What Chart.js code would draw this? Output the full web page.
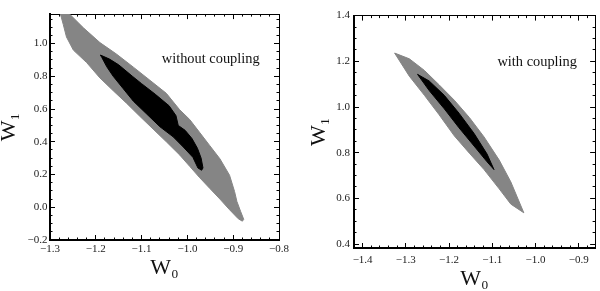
<!DOCTYPE html>
<html>
<head>
<meta charset="utf-8">
<script src="https://cdn.jsdelivr.net/npm/chart.js@4"></script>
<style>
html,body{margin:0;padding:0;background:#fff;}
#wrap{position:relative;width:600px;height:291px;overflow:hidden;background:#fff;}
canvas{position:absolute;top:0;}
#c1{left:0;}
#c2{left:300px;}
</style>
</head>
<body>
<div id="wrap">
<canvas id="c1" width="300" height="291"></canvas>
<canvas id="c2" width="300" height="291"></canvas>
</div>
<script>
// ---------- data ----------
// Left panel: without coupling
const leftOuterX = [-1.282, -1.262, -1.260, -1.227, -1.191, -1.155, -1.118, -1.082, -1.046, -1.017, -0.995, -0.973, -0.951, -0.929, -0.908, -0.897, -0.892, -0.884, -0.877, -0.880, -0.889, -0.908, -0.929, -0.951, -0.973, -0.995, -1.017, -1.046, -1.075, -1.104, -1.133, -1.162, -1.191, -1.220, -1.249, -1.264, -1.271, -1.278, -1.282];
const leftOuterY = [1.200, 1.200, 1.188, 1.096, 1.006, 0.936, 0.856, 0.776, 0.696, 0.596, 0.536, 0.456, 0.376, 0.296, 0.196, 0.096, 0.036, -0.024, -0.074, -0.085, -0.070, -0.015, 0.050, 0.115, 0.180, 0.250, 0.320, 0.400, 0.478, 0.556, 0.636, 0.712, 0.790, 0.884, 0.960, 1.040, 1.116, 1.188, 1.200];
const leftInnerX = [-1.190, -1.170, -1.150, -1.120, -1.100, -1.070, -1.040, -1.025, -1.020, -1.005, -0.990, -0.978, -0.970, -0.966, -0.969, -0.977, -0.988, -1.009, -1.031, -1.060, -1.089, -1.118, -1.140, -1.162, -1.176, -1.187, -1.190];
const leftInnerY = [0.930, 0.905, 0.870, 0.800, 0.755, 0.690, 0.620, 0.560, 0.500, 0.470, 0.420, 0.360, 0.300, 0.240, 0.226, 0.240, 0.305, 0.368, 0.430, 0.492, 0.570, 0.648, 0.724, 0.800, 0.858, 0.916, 0.930];

// Right panel: with coupling
const rightOuterX = [-1.326, -1.292, -1.257, -1.223, -1.188, -1.153, -1.119, -1.084, -1.057, -1.027, -1.057, -1.084, -1.119, -1.153, -1.188, -1.223, -1.257, -1.292, -1.326];
const rightOuterY = [1.236, 1.211, 1.160, 1.097, 1.030, 0.954, 0.869, 0.768, 0.672, 0.537, 0.575, 0.642, 0.726, 0.798, 0.874, 0.966, 1.051, 1.135, 1.236];
const rightInnerX = [-1.273, -1.246, -1.211, -1.177, -1.142, -1.112, -1.096, -1.112, -1.142, -1.177, -1.211, -1.246, -1.273];
const rightInnerY = [1.143, 1.114, 1.051, 0.973, 0.884, 0.794, 0.726, 0.760, 0.829, 0.909, 0.992, 1.072, 1.143];

// axis ranges and tick steps
const leftXRange = [-1.3, -0.8];
const leftYRange = [-0.2, 1.18];
const rightXRange = [-1.42, -0.862];
const rightYRange = [0.383, 1.4];
const xMajorStep = 0.1, xMinorStep = 0.02;
const yMajorStep = 0.2, yMinorStep = 0.05;

// texts
const xTitle = 'W\u2080';
const yTitle = 'W\u2081';
const leftNote = 'without coupling';
const rightNote = 'with coupling';
const leftNotePos = [-1.056, 0.905];
const rightNotePos = [-1.088, 1.196];

// ---------- rendering ----------
const SERIF = '"Liberation Serif", "DejaVu Serif", serif';
const GRAY = '#858585';
const BLACK = '#000000';

function pts(xs, ys) { return xs.map((x, i) => ({x: x, y: ys[i]})); }
function region(xs, ys, color, order) {
  return {
    data: pts(xs, ys), showLine: true, fill: 'shape',
    backgroundColor: color, borderColor: color, borderWidth: 1,
    pointRadius: 0, pointHoverRadius: 0, tension: 0, order: order
  };
}
function fmt(v) {
  if (Math.abs(v) < 1e-9) return '0.0';
  const s = Math.abs(v).toFixed(1);
  return v < 0 ? '\u2212' + s : s;
}

const notePlugin = {
  id: 'note',
  afterDatasetsDraw(chart, args, opts) {
    const ctx = chart.ctx;
    ctx.save();
    ctx.font = '14.4px ' + SERIF;
    ctx.fillStyle = '#111';
    ctx.textAlign = 'left';
    ctx.textBaseline = 'middle';
    ctx.fillText(opts.text, chart.scales.x.getPixelForValue(opts.x), chart.scales.y.getPixelForValue(opts.y));
    ctx.restore();
  }
};

function frameScales(p) {
  const minorAxis = (axis, pos, min, max, step, len, weight, zero) => ({
    type: 'linear', axis: axis, position: pos, min: min, max: max, weight: weight,
    ticks: {display: false, stepSize: step, includeBounds: false, autoSkip: false},
    grid: {drawOnChartArea: false, drawTicks: true, tickLength: len, tickColor: '#000', tickWidth: 1},
    border: {display: false},
    afterFit: zero
  });
  const zeroH = s => { s.height = 0; };
  const zeroW = s => { s.width = 0; };
  const titleFont = {family: SERIF, size: 22, lineHeight: 0.8};
  return {
    x: {
      type: 'linear', position: 'bottom', min: p.x[0], max: p.x[1], weight: 1,
      ticks: {stepSize: xMajorStep, includeBounds: false, autoSkip: false, maxRotation: 0,
        padding: p.xPad, color: '#222', font: {family: SERIF, size: 11}, callback: v => fmt(v)},
      grid: {drawOnChartArea: false, drawTicks: true, tickLength: -5, tickColor: '#000', tickWidth: 1},
      border: {display: true, color: '#000', width: 2},
      title: {display: true, text: xTitle, color: '#111', font: titleFont,
        padding: {top: 0, bottom: p.xTitlePad}},
      afterFit: s => { s.height = p.xH; }
    },
    xMinor: minorAxis('x', 'bottom', p.x[0], p.x[1], xMinorStep, -2.5, 0, zeroH),
    xTop: Object.assign(minorAxis('x', 'top', p.x[0], p.x[1], xMajorStep, -5, 1, zeroH), {border: {display: true, color: '#000', width: 1}}),
    xTopMinor: minorAxis('x', 'top', p.x[0], p.x[1], xMinorStep, -2.5, 0, zeroH),
    y: {
      type: 'linear', position: 'left', min: p.y[0], max: p.y[1], weight: 1,
      ticks: {stepSize: yMajorStep, includeBounds: false, autoSkip: false,
        padding: p.yPad, color: '#222', font: {family: SERIF, size: 11}, callback: v => fmt(v)},
      grid: {drawOnChartArea: false, drawTicks: true, tickLength: -5, tickColor: '#000', tickWidth: 1},
      border: {display: true, color: '#000', width: 2},
      title: {display: true, text: yTitle, color: '#111', font: titleFont,
        padding: {top: p.yTitlePad, bottom: 0}},
      afterFit: s => { s.width = p.yW; }
    },
    yMinor: minorAxis('y', 'left', p.y[0], p.y[1], yMinorStep, -2.5, 0, zeroW),
    yRight: Object.assign(minorAxis('y', 'right', p.y[0], p.y[1], yMajorStep, -5, 1, zeroW), {border: {display: true, color: '#000', width: 1}}),
    yRightMinor: minorAxis('y', 'right', p.y[0], p.y[1], yMinorStep, -2.5, 0, zeroW)
  };
}

function makeChart(id, outerX, outerY, innerX, innerY, p, noteText, notePos) {
  return new Chart(document.getElementById(id), {
    type: 'scatter',
    data: {datasets: [region(innerX, innerY, BLACK, 0), region(outerX, outerY, GRAY, 1)]},
    options: {
      responsive: false, animation: false, devicePixelRatio: 1,
      layout: {padding: p.pad},
      plugins: {legend: {display: false}, tooltip: {enabled: false},
        note: {text: noteText, x: notePos[0], y: notePos[1]}},
      scales: frameScales(p)
    },
    plugins: [notePlugin]
  });
}

makeChart('c1', leftOuterX, leftOuterY, leftInnerX, leftInnerY, {
  x: leftXRange, y: leftYRange, pad: {left: 0, right: 21, top: 9, bottom: 0},
  xH: 51, yW: 50, xPad: 7.5, yPad: 7.5, xTitlePad: 14.2, yTitlePad: 0.2
}, leftNote, leftNotePos);

makeChart('c2', rightOuterX, rightOuterY, rightInnerX, rightInnerY, {
  x: rightXRange, y: rightYRange, pad: {left: 0, right: 4, top: 7, bottom: 0},
  xH: 43, yW: 54, xPad: 11, yPad: 9, xTitlePad: 3.2, yTitlePad: 10.7
}, rightNote, rightNotePos);
</script>
</body>
</html>
